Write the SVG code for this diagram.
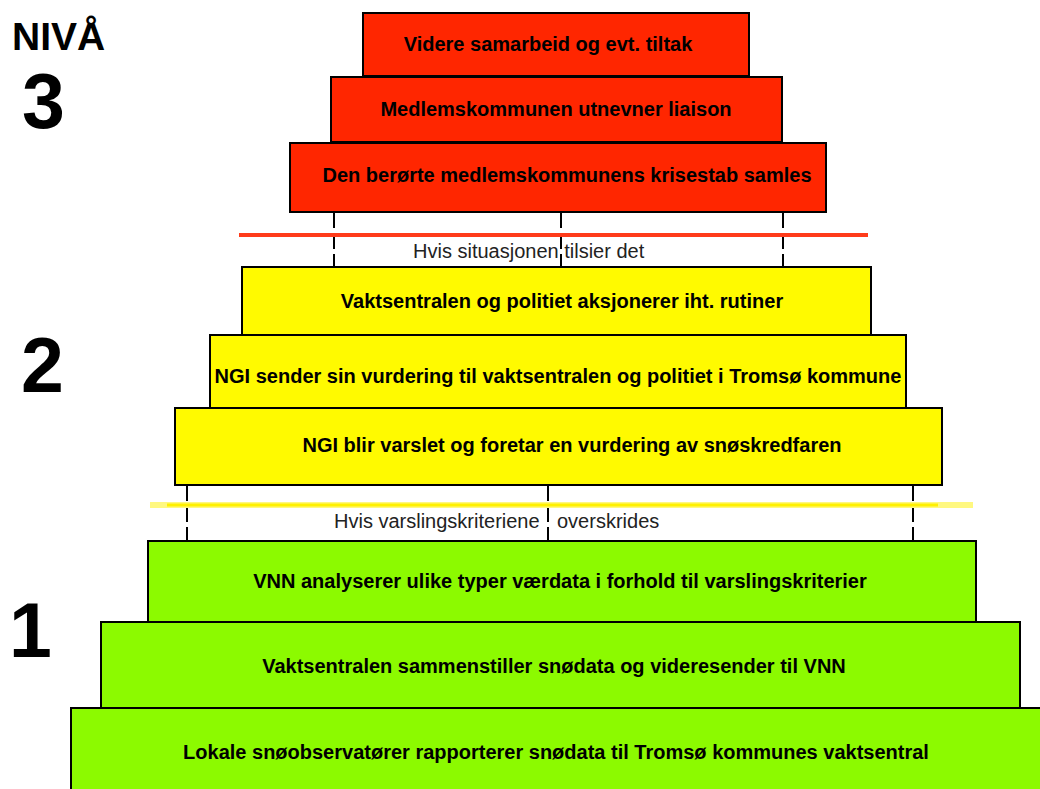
<svg xmlns="http://www.w3.org/2000/svg" width="1040" height="789" viewBox="0 0 1040 789">
<style>
.box{stroke:#000;stroke-width:2}
.red{fill:#ff2600}
.yel{fill:#fffa00}
.grn{fill:#8cfa00}
.t{font-family:"Liberation Sans",Arial,sans-serif;font-weight:bold;font-size:20px;fill:#000;text-anchor:middle}
.lvl{font-family:"Liberation Sans",Arial,sans-serif;font-weight:bold;fill:#000}
.note{font-family:"Liberation Sans",Arial,sans-serif;font-size:20px;fill:#222}
.dash{stroke:#000;stroke-width:2;stroke-dasharray:16 5;fill:none}
</style>
<rect width="1040" height="789" fill="#fff"/>
<g id="levels">
<text class="lvl" x="12" y="50" font-size="39">NIVÅ</text>
<text class="lvl" x="22" y="128" font-size="77">3</text>
<text class="lvl" x="21" y="392" font-size="77">2</text>
<text class="lvl" x="9" y="657" font-size="77">1</text>
</g>
<g id="connectors">
<line class="dash" x1="334" y1="212" x2="334" y2="267"/>
<line class="dash" x1="561" y1="212" x2="561" y2="267" stroke-dasharray="27 3"/>
<line class="dash" x1="783" y1="212" x2="783" y2="267"/>
<line class="dash" x1="187" y1="485" x2="187" y2="541" stroke-dasharray="0 7 11 6 14 6 13"/>
<line class="dash" x1="548" y1="485" x2="548" y2="541"/>
<line class="dash" x1="913" y1="485" x2="913" y2="541"/>
<line x1="239" y1="235" x2="868" y2="235" stroke="#ff3b1a" stroke-width="4"/>
<line x1="150" y1="505" x2="973" y2="505" stroke="#fff880" stroke-width="6"/>
<line x1="167" y1="505" x2="938" y2="505" stroke="#fff000" stroke-width="3"/>
</g>
<g id="note1">
<text class="note" x="413" y="258">Hvis situasjonen tilsier det</text>
</g>
<g id="note2">
<text class="note" x="334" y="528">Hvis varslingskriteriene</text>
<text class="note" x="557" y="528">overskrides</text>
</g>
<g id="n1"><rect class="box red" x="363" y="13" width="386" height="63"/><text class="t" x="548" y="51">Videre samarbeid og evt. tiltak</text></g>
<g id="n2"><rect class="box red" x="331" y="77" width="451" height="65"/><text class="t" x="556" y="116">Medlemskommunen utnevner liaison</text></g>
<g id="n3"><rect class="box red" x="290" y="143" width="536" height="69"/><text class="t" x="567" y="182">Den berørte medlemskommunens krisestab samles</text></g>
<g id="n4"><rect class="box yel" x="242" y="267" width="629" height="68"/><text class="t" x="562" y="308">Vaktsentralen og politiet aksjonerer iht. rutiner</text></g>
<g id="n5"><rect class="box yel" x="210" y="335" width="696" height="73"/><text class="t" x="558" y="383">NGI sender sin vurdering til vaktsentralen og politiet i Tromsø kommune</text></g>
<g id="n6"><rect class="box yel" x="175" y="408" width="767" height="77"/><text class="t" x="572" y="452">NGI blir varslet og foretar en vurdering av snøskredfaren</text></g>
<g id="n7"><rect class="box grn" x="148" y="541" width="828" height="81"/><text class="t" x="560" y="588">VNN analyserer ulike typer værdata i forhold til varslingskriterier</text></g>
<g id="n8"><rect class="box grn" x="101" y="622" width="919" height="86"/><text class="t" x="554" y="673">Vaktsentralen sammenstiller snødata og videresender til VNN</text></g>
<g id="n9"><rect class="box grn" x="71" y="708" width="980" height="90"/><text class="t" x="556" y="759">Lokale snøobservatører rapporterer snødata til Tromsø kommunes vaktsentral</text></g>
</svg>
